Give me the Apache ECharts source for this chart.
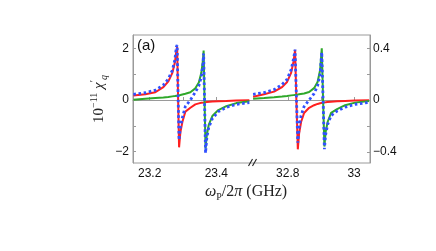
<!DOCTYPE html>
<html><head><meta charset="utf-8">
<script src="https://cdn.jsdelivr.net/npm/echarts@6/dist/echarts.min.js"></script>
<style>html,body{margin:0;padding:0;background:#fff}#c{width:436px;height:251px}</style>
</head><body><div id="c"></div>
<script>
// ---- data (GHz / 10^-11 units) ----
const freqLeft = [23.1511, 23.1871, 23.2171, 23.2411, 23.2561, 23.2681, 23.2756, 23.2801, 23.2825, 23.2852, 23.2882, 23.2921, 23.2981, 23.3071, 23.3221, 23.3370, 23.3475, 23.3550, 23.3595, 23.3619, 23.3646, 23.3676, 23.3715, 23.3775, 23.3880, 23.4060, 23.4300, 23.4600, 23.4990];
const redLeft   = [0.17, 0.22, 0.30, 0.50, 0.72, 1.05, 1.45, 1.90, 2.05, 0.10, -1.83, -1.25, -0.85, -0.45, -0.30, -0.17, -0.13, -0.11, -0.10, -0.10, -0.09, -0.09, -0.08, -0.08, -0.06, -0.05, -0.04, -0.02, -0.01];
const greenLeft = [0.01, 0.05, 0.08, 0.10, 0.12, 0.14, 0.15, 0.16, 0.16, 0.17, 0.18, 0.19, 0.20, 0.24, 0.30, 0.45, 0.68, 1.05, 1.50, 1.91, 0.00, -1.87, -1.35, -0.95, -0.62, -0.39, -0.24, -0.12, -0.05];
const blueLeft  = [0.22, 0.28, 0.38, 0.58, 0.82, 1.15, 1.55, 2.05, 2.13, 0.20, -1.55, -1.05, -0.68, -0.25, 0.00, 0.30, 0.55, 0.90, 1.35, 1.80, 0.00, -2.05, -1.45, -1.05, -0.72, -0.45, -0.28, -0.17, -0.10];

const freqRight = [32.6953, 32.7285, 32.7587, 32.7828, 32.7979, 32.8100, 32.8175, 32.8220, 32.8259, 32.8302, 32.8341, 32.8401, 32.8492, 32.8643, 32.8793, 32.8899, 32.8974, 32.9025, 32.9065, 32.9104, 32.9140, 32.9201, 32.9306, 32.9487, 32.9729, 33.0030, 33.0453];
const redRight   = [0.026, 0.045, 0.065, 0.10, 0.14, 0.21, 0.30, 0.387, 0.00, -0.381, -0.26, -0.17, -0.10, -0.06, -0.04, -0.03, -0.025, -0.022, -0.02, -0.02, -0.018, -0.016, -0.013, -0.01, -0.007, -0.004, -0.001];
const greenRight = [0.010, 0.016, 0.022, 0.028, 0.032, 0.036, 0.038, 0.039, 0.040, 0.042, 0.044, 0.046, 0.051, 0.062, 0.092, 0.14, 0.23, 0.40, 0.00, -0.36, -0.25, -0.17, -0.10, -0.07, -0.04, -0.02, -0.008];
const blueRight  = [0.044, 0.058, 0.08, 0.12, 0.16, 0.235, 0.32, 0.39, 0.03, -0.33, -0.21, -0.12, -0.05, 0.00, 0.05, 0.11, 0.20, 0.37, 0.00, -0.38, -0.27, -0.19, -0.12, -0.085, -0.055, -0.033, -0.018];

const xTicksLeft = [23.2, 23.3, 23.4];
const xLabelsLeft = [23.2, 23.4];
const xTicksRight = [32.8, 32.9, 33.0];
const xLabelsRight = [32.8, 33.0];
const yTicksLeft = [-2, -1, 0, 1, 2];
const yLabelsLeft = [-2, 0, 2];
const yTicksRight = [-0.4, -0.2, 0, 0.2, 0.4];
const yLabelsRight = [-0.4, 0, 0.4];

// ---- styling ----
const AX = '#9a9a9a';
const RED = '#ff1f1f', GREEN = '#2fa82a', BLUE = '#3050ff';
const fmt = v => String(+v.toFixed(2)).replace('-', '\u2212');
const zip = (xs, ys) => xs.map((x, i) => [x, ys[i]]);

function xAx(gi, min, max, ticks, labels) {
  return {
    type: 'value', gridIndex: gi, min, max, position: 'bottom',
    axisLine: { show: true, lineStyle: { color: AX, width: 1 } },
    axisTick: { show: true, inside: true, length: 3, customValues: ticks, lineStyle: { color: AX } },
    axisLabel: { show: true, customValues: labels, formatter: fmt, color: '#111', fontSize: 12, fontFamily: 'Liberation Sans, Arial, sans-serif', margin: 5 },
    splitLine: { show: false }
  };
}
function yAx(gi, pos, min, max, ticks, labels, extra) {
  return Object.assign({
    type: 'value', gridIndex: gi, min, max, position: pos,
    axisLine: { show: true, onZero: false, lineStyle: { color: AX, width: 1 } },
    axisTick: { show: true, inside: true, length: 3, customValues: ticks, lineStyle: { color: AX } },
    axisLabel: { show: true, customValues: labels, formatter: fmt, color: '#111', fontSize: 12, fontFamily: 'Liberation Sans, Arial, sans-serif', margin: pos === 'left' ? 4 : 3 },
    splitLine: { show: false }
  }, extra || {});
}
function line(name, xi, yi, data, color, dotted) {
  return {
    name, type: 'line', xAxisIndex: xi, yAxisIndex: yi, data, showSymbol: false, symbol: 'none',
    smooth: false, clip: true, z: dotted ? 3 : 2,
    lineStyle: dotted ? { color, width: 2.8, type: [2.6, 2.6], cap: 'butt' } : { color, width: 2 }
  };
}

const chart = echarts.init(document.getElementById('c'), null, { renderer: 'canvas' });
chart.setOption({
  animation: false,
  backgroundColor: '#fff',
  grid: [
    { left: 133, top: 35, width: 118, height: 128 },
    { left: 251, top: 35, width: 119, height: 128 }
  ],
  xAxis: [
    xAx(0, 23.15, 23.504, xTicksLeft, xLabelsLeft),
    xAx(1, 32.689, 33.048, xTicksRight, xLabelsRight)
  ],
  yAxis: [
    yAx(0, 'left', -2.437, 2.514, yTicksLeft, yLabelsLeft, {
      name: '{n|10}{s|\u221211}{n| }{i|\u03c7}{s|\u2032}{b|q}',
      nameLocation: 'middle', nameGap: 24, nameRotate: 90,
      nameTextStyle: {
        rich: {
          n: { fontFamily: 'Liberation Serif, serif', fontSize: 15, color: '#222', lineHeight: 20, verticalAlign: 'middle' },
          s: { fontFamily: 'Liberation Serif, serif', fontSize: 10, color: '#222', lineHeight: 10, verticalAlign: 'top' },
          i: { fontFamily: 'Liberation Serif, serif', fontStyle: 'italic', fontSize: 15, color: '#222', lineHeight: 20, verticalAlign: 'middle' },
          b: { fontFamily: 'Liberation Serif, serif', fontStyle: 'italic', fontSize: 10, color: '#222', lineHeight: 10, verticalAlign: 'bottom' }
        }
      }
    }),
    yAx(1, 'right', -0.487, 0.503, yTicksRight, yLabelsRight)
  ],
  series: [
    line('red L', 0, 0, zip(freqLeft, redLeft), RED, false),
    line('green L', 0, 0, zip(freqLeft, greenLeft), GREEN, false),
    line('blue L', 0, 0, zip(freqLeft, blueLeft), BLUE, true),
    line('red R', 1, 1, zip(freqRight, redRight), RED, false),
    line('green R', 1, 1, zip(freqRight, greenRight), GREEN, false),
    line('blue R', 1, 1, zip(freqRight, blueRight), BLUE, true)
  ],
  graphic: [
    { type: 'rect', shape: { x: 133, y: 35, width: 237, height: 128 }, style: { fill: 'none', stroke: AX, lineWidth: 1 }, z: 0, silent: true },
    { type: 'line', shape: { x1: 248.5, y1: 166, x2: 252.5, y2: 159 }, style: { stroke: '#222', lineWidth: 1.1 }, z: 10 },
    { type: 'line', shape: { x1: 252.5, y1: 166, x2: 256.5, y2: 159 }, style: { stroke: '#222', lineWidth: 1.1 }, z: 10 },
    { type: 'text', left: 137, top: 38, style: { text: '(a)', fontSize: 15, fontFamily: 'Liberation Sans, Arial, sans-serif', fill: '#111' }, z: 10 },
    { type: 'text', left: 205, top: 184, style: {
      text: '{i|\u03c9}{r|P}{n|/2}{i|\u03c0}{n| (GHz)}',
      rich: {
        i: { fontFamily: 'Liberation Serif, serif', fontStyle: 'italic', fontSize: 16, fill: '#222', lineHeight: 20, verticalAlign: 'middle' },
        r: { fontFamily: 'Liberation Serif, serif', fontSize: 10, fill: '#222', lineHeight: 10, verticalAlign: 'bottom' },
        n: { fontFamily: 'Liberation Serif, serif', fontSize: 16, fill: '#222', lineHeight: 20, verticalAlign: 'middle' }
      }
    }, z: 10 }
  ]
});
</script></body></html>
